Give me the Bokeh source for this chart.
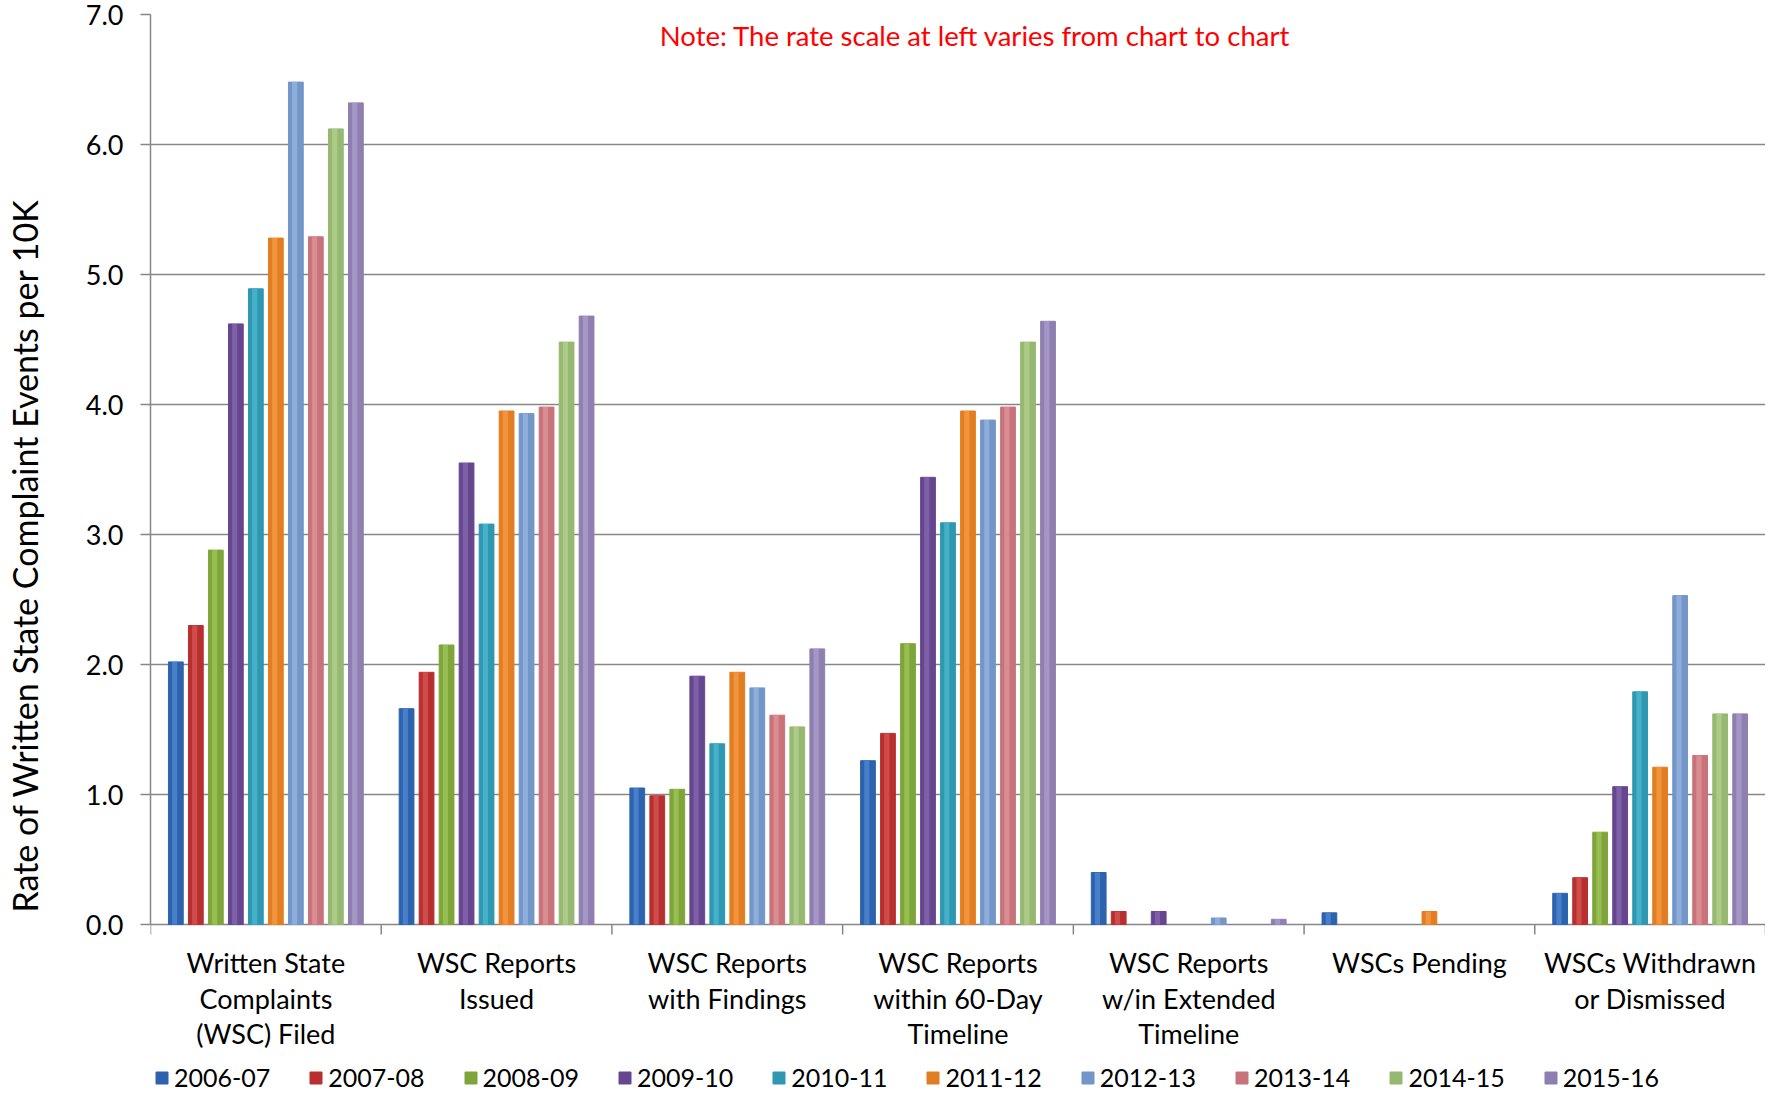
from bokeh.plotting import figure
from bokeh.models import (ColumnDataSource, Range1d, FixedTicker, PrintfTickFormatter,
                          Legend, LegendItem, Label)
from bokeh.core.properties import value
from bokeh.transform import dodge
from bokeh.embed import file_html
from bokeh.resources import INLINE

# ---------------- data ----------------
groups = [
    "Written State\nComplaints\n(WSC) Filed",
    "WSC Reports\nIssued",
    "WSC Reports\nwith Findings",
    "WSC Reports\nwithin 60-Day\nTimeline",
    "WSC Reports\nw/in Extended\nTimeline",
    "WSCs Pending",
    "WSCs Withdrawn\nor Dismissed",
]
years = ["2006-07", "2007-08", "2008-09", "2009-10", "2010-11",
         "2011-12", "2012-13", "2013-14", "2014-15", "2015-16"]

v2006_07 = [2.02, 1.66, 1.05, 1.26, 0.40, 0.09, 0.24]
v2007_08 = [2.30, 1.94, 0.99, 1.47, 0.10, 0.00, 0.36]
v2008_09 = [2.88, 2.15, 1.04, 2.16, 0.00, 0.00, 0.71]
v2009_10 = [4.62, 3.55, 1.91, 3.44, 0.10, 0.00, 1.06]
v2010_11 = [4.89, 3.08, 1.39, 3.09, 0.00, 0.00, 1.79]
v2011_12 = [5.28, 3.95, 1.94, 3.95, 0.00, 0.10, 1.21]
v2012_13 = [6.48, 3.93, 1.82, 3.88, 0.05, 0.00, 2.53]
v2013_14 = [5.29, 3.98, 1.61, 3.98, 0.00, 0.00, 1.30]
v2014_15 = [6.12, 4.48, 1.52, 4.48, 0.00, 0.00, 1.62]
v2015_16 = [6.32, 4.68, 2.12, 4.64, 0.04, 0.00, 1.62]

series = [v2006_07, v2007_08, v2008_09, v2009_10, v2010_11,
          v2011_12, v2012_13, v2013_14, v2014_15, v2015_16]

colors = ["#2D63AE", "#B7302F", "#7FA53A", "#66468F", "#2E97B1",
          "#E27D22", "#7396C8", "#C8727A", "#97B870", "#8E7FB0"]
highlights = ["#4F86CF", "#D45452", "#9CC45A", "#8466AE", "#4DB6D0",
              "#F59A45", "#95B3DD", "#DD9499", "#B3D08F", "#AA9DCA"]

y_ticks = [0, 1, 2, 3, 4, 5, 6, 7]
note_text = "Note:  The rate scale at left varies from chart to chart"
y_title = "Rate of Written State Complaint Events per 10K"

FONT = "Lato"
GRAY = "#878787"

# ---------------- layout constants (screen px) ----------------
W, H = 1765, 1096
TOP = 14
ZERO_PX = 924                       # canvas y of the value 0
PPU = (ZERO_PX - TOP) / 7.0         # pixels per data unit
YMIN = -(H - ZERO_PX) / PPU         # room below the baseline for labels/legend

p = figure(width=W, height=H, output_backend="svg", toolbar_location=None,
           x_range=Range1d(0.5, 7.5), y_range=Range1d(YMIN, 7),
           x_axis_location=None,
           min_border_left=148, min_border_right=0, min_border_top=TOP,
           min_border_bottom=0)
p.outline_line_color = None
p.background_fill_color = "white"
p.border_fill_color = "white"

# ---------------- bars ----------------
step = 0.0867
bw = 0.064
legend_items = []
for j, (yr, vals) in enumerate(zip(years, series)):
    xs = [i + 1 for i, v in enumerate(vals) if v > 0]
    tops = [v for v in vals if v > 0]
    src = ColumnDataSource(dict(x=xs, top=tops))
    off = (j - 4.5) * step
    r = p.vbar(x=dodge("x", off, range=p.x_range), top="top", bottom=0, width=bw,
               source=src, fill_color=colors[j], line_color=colors[j], line_width=1)
    p.vbar(x=dodge("x", off - bw * 0.08, range=p.x_range), top="top", bottom=0,
           width=bw * 0.35, source=src, fill_color=highlights[j], line_color=None,
           fill_alpha=0.8)
    legend_items.append(LegendItem(label=yr, renderers=[r]))

# ---------------- y axis ----------------
yax = p.yaxis[0]
yax.bounds = (0, 7)
yax.ticker = FixedTicker(ticks=y_ticks)
yax.formatter = PrintfTickFormatter(format="%.1f")
yax.major_label_text_font = FONT
yax.major_label_text_font_size = "27px"
yax.major_label_text_color = "black"
yax.major_label_standoff = 17
yax.major_tick_out = 10
yax.major_tick_in = 0
yax.minor_tick_line_color = None
yax.axis_line_color = GRAY
yax.axis_line_width = 1.5
yax.major_tick_line_color = GRAY
yax.major_tick_line_width = 1.5
yax.axis_label = y_title
yax.axis_label_text_font = FONT
yax.axis_label_text_font_size = "34px"
yax.axis_label_text_font_style = "normal"
yax.axis_label_text_color = "black"
yax.axis_label_standoff = 38

p.xgrid.grid_line_color = None
p.ygrid.ticker = FixedTicker(ticks=y_ticks)
p.ygrid.grid_line_color = GRAY
p.ygrid.grid_line_width = 1.5

# ---------------- category axis (baseline ticks + labels) ----------------
bounds_x = [i + 0.5 for i in range(len(groups) + 1)]
p.segment(x0=bounds_x, y0=[0] * len(bounds_x), x1=bounds_x,
          y1=[-10 / PPU] * len(bounds_x), line_color=GRAY, line_width=1.5)

lab_x, lab_y, lab_t = [], [], []
for i, g in enumerate(groups):
    for k, line in enumerate(g.split("\n")):
        lab_x.append(i + 1)
        lab_y.append(-(38 + 35.5 * k) / PPU)
        lab_t.append(line)
p.text(x=lab_x, y=lab_y, text=lab_t, text_align="center", text_baseline="middle",
       text_font=value(FONT), text_font_size=value("27px"), text_color="black")

# ---------------- note ----------------
note = Label(x=4.09, y=7 - 21 / PPU, text=note_text, text_color="#FF0000",
             text_font=FONT, text_font_size="27.5px", text_align="center",
             text_baseline="middle")
p.add_layout(note)

# ---------------- legend ----------------
legend = Legend(items=legend_items, orientation="horizontal", location="bottom_left",
                glyph_width=15, glyph_height=15, label_standoff=5, spacing=38,
                label_text_font=FONT, label_text_font_size="25px",
                label_text_color="black", border_line_color=None,
                background_fill_alpha=0, padding=0, margin=4)
p.add_layout(legend)

open("out.html", "w").write(file_html(p, INLINE))
